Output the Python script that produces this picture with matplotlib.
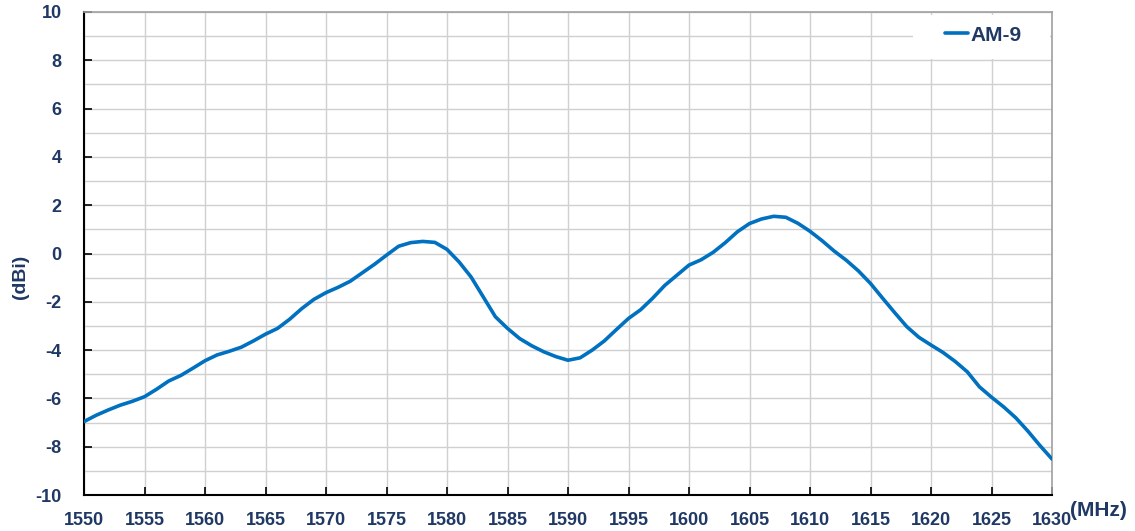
import numpy as np
import matplotlib.pyplot as plt
from matplotlib.patches import Rectangle
from matplotlib.ticker import MultipleLocator

# gain of AM-9 versus frequency at 1 MHz steps
freq_mhz = list(range(1550, 1631))
gain_dbi = [
    -6.96, -6.70, -6.48, -6.28, -6.12, -5.93, -5.62, -5.28, -5.05, -4.75,
    -4.44, -4.20, -4.05, -3.88, -3.62, -3.34, -3.10, -2.72, -2.28, -1.90,
    -1.62, -1.40, -1.15, -0.80, -0.45, -0.07, 0.30, 0.45, 0.50, 0.46,
    0.17, -0.35, -0.98, -1.80, -2.62, -3.10, -3.52, -3.82, -4.07, -4.27,
    -4.42, -4.32, -4.00, -3.62, -3.15, -2.69, -2.33, -1.85, -1.32, -0.90,
    -0.48, -0.26, 0.05, 0.45, 0.90, 1.24, 1.43, 1.54, 1.50, 1.25,
    0.92, 0.53, 0.10, -0.28, -0.72, -1.24, -1.85, -2.45, -3.03, -3.47,
    -3.79, -4.10, -4.47, -4.90, -5.52, -5.95, -6.35, -6.80, -7.35, -7.95,
    -8.51,
]
series_name = 'AM-9'

navy = '#1F3864'
plt.rcParams['font.family'] = ['Liberation Sans', 'DejaVu Sans']
plt.rcParams['axes.unicode_minus'] = False

fig = plt.figure(figsize=(11.35, 5.31), dpi=100)
ax = fig.add_axes([84/1135, 1 - 495/531, (1052 - 84)/1135, (495 - 12)/531])

ax.plot(freq_mhz, gain_dbi, color='#0070C0', lw=2.6, label=series_name,
        solid_capstyle='round', solid_joinstyle='round', zorder=3)

ax.set_xlim(1550, 1630)
ax.set_ylim(-10, 10)
ax.xaxis.set_major_locator(MultipleLocator(5))
ax.yaxis.set_major_locator(MultipleLocator(2))
ax.yaxis.set_minor_locator(MultipleLocator(1))
ax.grid(True, which='both', color='#d0d0d0', lw=1.0, zorder=0)
ax.set_axisbelow(True)

ax.tick_params(axis='both', which='major', direction='in', length=6,
               width=1.2, color='black', labelsize=13, labelcolor=navy)
ax.tick_params(axis='x', which='major', pad=12)
ax.tick_params(axis='y', which='major', pad=16)
ax.tick_params(axis='y', which='minor', length=0)
for lab in ax.get_xticklabels() + ax.get_yticklabels():
    lab.set_fontweight('bold')

for side in ['left', 'bottom']:
    ax.spines[side].set_color('black')
    ax.spines[side].set_linewidth(1.5)
for side in ['top', 'right']:
    ax.spines[side].set_color('#a0a0a0')
    ax.spines[side].set_linewidth(1.2)

fig.text(20/1135, 1 - 277/531, '(dBi)', rotation=90, ha='center', va='center',
         fontsize=14, fontweight='bold', color=navy)
fig.text(1070/1135, 1 - 510/531, '(MHz)', ha='left', va='center',
         fontsize=15, fontweight='bold', color=navy)

# white legend background (no border), wider than the legend itself
ax.add_patch(Rectangle((0.856, 0.903), 0.142, 0.091, transform=ax.transAxes,
                       facecolor='white', edgecolor='none', zorder=2))
leg = ax.legend(loc='center', bbox_to_anchor=(0.929, 0.952), frameon=False,
                handlelength=1.1, handletextpad=0.15, borderpad=0.0,
                borderaxespad=0.0, prop={'weight': 'bold', 'size': 15})
for t in leg.get_texts():
    t.set_color(navy)

fig.savefig('out.png', dpi=100)
